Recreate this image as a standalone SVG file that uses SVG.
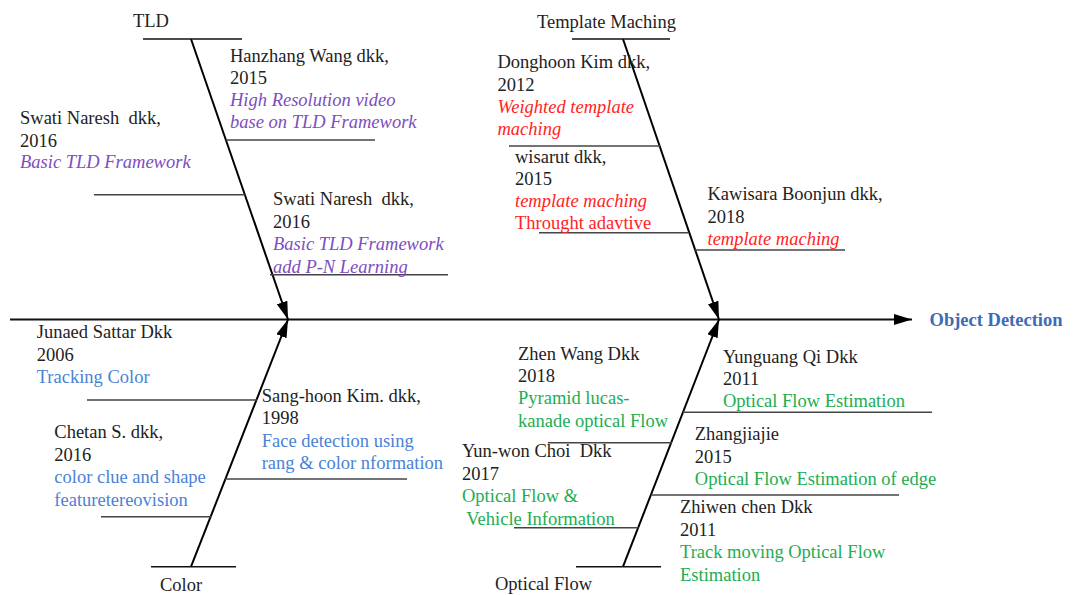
<svg xmlns="http://www.w3.org/2000/svg" width="1073" height="595" viewBox="0 0 1073 595">
<defs>
<marker id="ah" markerUnits="userSpaceOnUse" markerWidth="18" markerHeight="11" refX="18" refY="5.5" orient="auto">
<path d="M0,0 L18,5.5 L0,11 z" fill="#000"/>
</marker>
<style>
text{font-family:"Liberation Serif","Times New Roman",serif;font-size:18.5px;fill:#222;white-space:pre}
.it{font-style:italic}
.pu{fill:#7d4dbf}
.rd{fill:#ff2424}
.bl{fill:#4a82d6}
.gr{fill:#22ad52}
.rib{stroke:#444;stroke-width:1.6;fill:none}
.cap{stroke:#111;stroke-width:1.6;fill:none}
.bone{stroke:#000;stroke-width:2;fill:none;marker-end:url(#ah)}
.title{font-weight:bold;fill:#3d6bb8}
</style>
</defs>
<rect width="1073" height="595" fill="#fff"/>
<g id="connectors">
<line x1="10" y1="319.5" x2="912" y2="319.5" stroke="#111" stroke-width="2.2" marker-end="url(#ah)"/>
<line class="bone" x1="191" y1="39" x2="288" y2="319.5"/>
<line class="bone" x1="623" y1="39" x2="719" y2="319.5"/>
<line class="bone" x1="191" y1="566.7" x2="288" y2="319.5"/>
<line class="bone" x1="623" y1="566.7" x2="719" y2="319.5"/>
</g>
<g id="object-detection">
<text class="title" x="929.5" y="326">Object Detection</text>
</g>
<g id="tld">
<line class="cap" x1="143" y1="39" x2="242" y2="39"/>
<text x="133" y="27">TLD</text>
<line class="rib" x1="226" y1="140" x2="375" y2="140"/>
<line class="rib" x1="94" y1="194.7" x2="245" y2="194.7"/>
<line class="rib" x1="270" y1="274.7" x2="448" y2="274.7"/>
<text x="230" y="61.5">Hanzhang Wang dkk,</text>
<text x="230" y="83.5">2015</text>
<text class="it pu" x="230" y="106">High Resolution video</text>
<text class="it pu" x="230" y="128">base on TLD Framework</text>
<text x="20" y="124.3">Swati Naresh  dkk,</text>
<text x="20" y="146.7">2016</text>
<text class="it pu" x="20" y="168.3">Basic TLD Framework</text>
<text x="273" y="205">Swati Naresh  dkk,</text>
<text x="273" y="227.7">2016</text>
<text class="it pu" x="273" y="250">Basic TLD Framework</text>
<text class="it pu" x="273" y="272.7">add P-N Learning</text>
</g>
<g id="template-maching">
<line class="cap" x1="572" y1="39" x2="670" y2="39"/>
<text x="537" y="28">Template Maching</text>
<line class="rib" x1="509" y1="146" x2="660" y2="146"/>
<line class="rib" x1="539" y1="232.7" x2="689" y2="232.7"/>
<line class="rib" x1="695" y1="250" x2="845" y2="250"/>
<text x="497.5" y="68.3">Donghoon Kim dkk,</text>
<text x="497.5" y="90.7">2012</text>
<text class="it rd" x="497.5" y="113.3">Weighted template</text>
<text class="it rd" x="497.5" y="135">maching</text>
<text x="515" y="162.7">wisarut dkk,</text>
<text x="515" y="185">2015</text>
<text class="it rd" x="515" y="207.3">template maching</text>
<text class="rd" x="515" y="229.3">Throught adavtive</text>
<text x="707.5" y="200">Kawisara Boonjun dkk,</text>
<text x="707.5" y="222.7">2018</text>
<text class="it rd" x="707.5" y="245">template maching</text>
</g>
<g id="color">
<line class="cap" x1="151" y1="566.7" x2="236" y2="566.7"/>
<text x="160" y="591">Color</text>
<line class="rib" x1="87" y1="400" x2="257" y2="400"/>
<line class="rib" x1="225" y1="479" x2="407" y2="479"/>
<line class="rib" x1="101" y1="516.7" x2="211" y2="516.7"/>
<text x="36.7" y="338.3">Junaed Sattar Dkk</text>
<text x="36.7" y="361">2006</text>
<text class="bl" x="36.7" y="383.3">Tracking Color</text>
<text x="261.7" y="401.7">Sang-hoon Kim. dkk,</text>
<text x="261.7" y="424.3">1998</text>
<text class="bl" x="261.7" y="446.7">Face detection using</text>
<text class="bl" x="261.7" y="469">rang &amp; color nformation</text>
<text x="54.3" y="438.3">Chetan S. dkk,</text>
<text x="54.3" y="460.7">2016</text>
<text class="bl" x="54.3" y="483.3">color clue and shape</text>
<text class="bl" x="54.3" y="505.7">featuretereovision</text>
</g>
<g id="optical-flow">
<line class="cap" x1="576" y1="566.7" x2="661" y2="566.7"/>
<text x="495" y="590">Optical Flow</text>
<line class="rib" x1="683" y1="412.3" x2="932" y2="412.3"/>
<line class="rib" x1="548" y1="442.7" x2="672" y2="442.7"/>
<line class="rib" x1="651" y1="495" x2="899" y2="495"/>
<line class="rib" x1="514" y1="527.7" x2="638.5" y2="527.7"/>
<text x="518" y="360">Zhen Wang Dkk</text>
<text x="518" y="381.7">2018</text>
<text class="gr" x="518" y="404">Pyramid lucas-</text>
<text class="gr" x="518" y="426.7">kanade optical Flow</text>
<text x="723" y="362.7">Yunguang Qi Dkk</text>
<text x="723" y="385">2011</text>
<text class="gr" x="723" y="406.7">Optical Flow Estimation</text>
<text x="694.8" y="440">Zhangjiajie</text>
<text x="694.8" y="462.7">2015</text>
<text class="gr" x="694.8" y="485">Optical Flow Estimation of edge</text>
<text x="462" y="457.3">Yun-won Choi  Dkk</text>
<text x="462" y="480">2017</text>
<text class="gr" x="462" y="502.3">Optical Flow &amp;</text>
<text class="gr" x="462" y="525"> Vehicle Information</text>
<text x="680" y="513.3">Zhiwen chen Dkk</text>
<text x="680" y="535.7">2011</text>
<text class="gr" x="680" y="558.3">Track moving Optical Flow</text>
<text class="gr" x="680" y="580.7">Estimation</text>
</g>
</svg>
